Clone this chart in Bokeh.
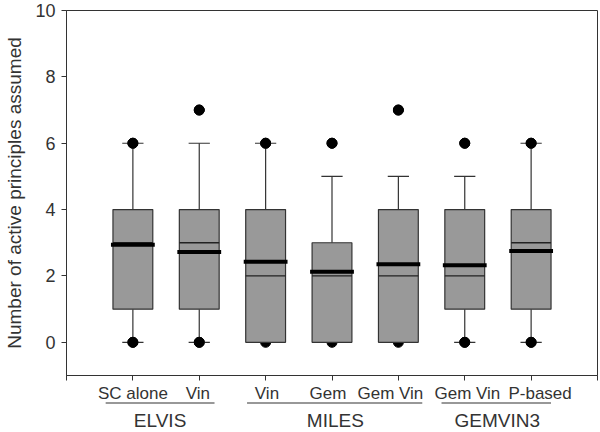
from bokeh.plotting import figure
from bokeh.models import Range1d, FixedTicker
from bokeh.layouts import column
from bokeh.core.properties import value
from bokeh.embed import file_html
from bokeh.resources import INLINE

# ---- data ----
positions = [1, 2, 3, 4, 5, 6, 7]
tick_labels = ["SC alone", "Vin", "Vin", "Gem", "Gem Vin", "Gem Vin", "P-based"]
q1 = [1, 1, 0, 0, 0, 1, 1]
q3 = [4, 4, 4, 3, 4, 4, 4]
median = [3, 3, 2, 2, 2, 2, 3]
mean = [2.94, 2.72, 2.43, 2.13, 2.35, 2.32, 2.75]
whisk_lo = [0, 0, 0, 0, 0, 0, 0]
whisk_hi = [6, 6, 6, 5, 5, 5, 6]
out_x = [1, 1, 2, 2, 3, 3, 4, 4, 5, 5, 6, 6, 7, 7]
out_y = [0, 6, 0, 7, 0, 6, 0, 6, 0, 7, 0, 6, 0, 6]
groups = ["ELVIS", "MILES", "GEMVIN3"]
group_start = [0.59, 2.72, 5.65]
group_end = [2.23, 5.36, 7.30]
group_center = [1.41, 4.05, 6.49]
y_ticks = [0, 2, 4, 6, 8, 10]
x_ticks = [0, 1, 2, 3, 4, 5, 6, 7, 8]   # includes the frame corners, as in the reference

# layout only: small horizontal nudges of the category labels (as in the reference)
label_nudge = [0.0, -0.02, 0.02, -0.06, -0.12, 0.04, 0.135]

FONT = "Liberation Sans"
GRAY = "#333333"
W = 600

p = figure(width=W, height=382, output_backend="svg", toolbar_location=None,
           x_range=Range1d(0, 8), y_range=Range1d(-1, 10),
           min_border_left=66, min_border_right=3, min_border_top=10, min_border_bottom=7)
p.grid.visible = False
p.outline_line_color = GRAY
p.outline_line_width = 1

# outliers drawn first (boxes cover those lying on a box edge)
p.scatter(out_x, out_y, size=10, color="black")

# whiskers and caps
p.segment(positions, whisk_lo, positions, q1, line_color=GRAY, line_width=1.2)
p.segment(positions, q3, positions, whisk_hi, line_color=GRAY, line_width=1.2)
caps_l = [x - 0.16 for x in positions]
caps_r = [x + 0.16 for x in positions]
p.segment(caps_l, whisk_lo, caps_r, whisk_lo, line_color=GRAY, line_width=1.2)
p.segment(caps_l, whisk_hi, caps_r, whisk_hi, line_color=GRAY, line_width=1.2)

# boxes, median (thin) and mean (thick)
box_l = [x - 0.3 for x in positions]
box_r = [x + 0.3 for x in positions]
p.quad(left=box_l, right=box_r, bottom=q1, top=q3, fill_color="#999999",
       line_color=GRAY, line_width=1.2)
p.segment(box_l, median, box_r, median, line_color="#222222", line_width=1.3)
mean_l = [x - 0.33 for x in positions]
mean_r = [x + 0.33 for x in positions]
p.segment(mean_l, mean, mean_r, mean, line_color="black", line_width=4)

# outliers sitting on whisker caps stay visible on top
vis = [(x, y) for x, y in zip(out_x, out_y) if not (y == q1[x - 1])]
p.scatter([v[0] for v in vis], [v[1] for v in vis], size=10, color="black")

# axes
p.yaxis.ticker = FixedTicker(ticks=y_ticks)
p.yaxis.minor_tick_line_color = None
p.yaxis.major_tick_in = 0
p.yaxis.major_tick_out = 5
p.yaxis.major_label_text_font = FONT
p.yaxis.major_label_text_font_size = "18px"
p.yaxis.major_label_text_color = GRAY
p.yaxis.axis_line_color = GRAY
p.yaxis.major_tick_line_color = GRAY
p.yaxis.major_label_standoff = 6
p.yaxis.axis_label = "Number of active principles assumed"
p.yaxis.axis_label_text_font = FONT
p.yaxis.axis_label_text_font_size = "19px"
p.yaxis.axis_label_text_font_style = "normal"
p.yaxis.axis_label_text_color = GRAY
p.yaxis.axis_label_standoff = 7

# x axis: ticks only; the category names are set in the strip below
p.xaxis.ticker = FixedTicker(ticks=x_ticks)
p.xaxis.major_label_overrides = {x: "" for x in x_ticks}
p.xaxis.minor_tick_line_color = None
p.xaxis.major_tick_in = 0
p.xaxis.major_tick_out = 5
p.xaxis.major_label_standoff = 0
p.xaxis.axis_line_color = GRAY
p.xaxis.major_tick_line_color = GRAY

# strip below: category names, study-group underlines and names
# (strip y is in pixels from the strip's bottom)
g = figure(width=W, height=50, output_backend="svg", toolbar_location=None,
           x_range=p.x_range, y_range=Range1d(0, 50),
           x_axis_type=None, y_axis_type=None,
           min_border_left=66, min_border_right=3, min_border_top=0, min_border_bottom=0)
g.grid.visible = False
g.outline_line_color = None
label_x = [x + d for x, d in zip(positions, label_nudge)]
g.text(label_x, [39] * len(positions), text=tick_labels, text_align="center",
       text_baseline="alphabetic", text_font=value(FONT), text_font_size="17px",
       text_color=GRAY)
g.segment(group_start, [29.5] * 3, group_end, [29.5] * 3, line_color=GRAY, line_width=1.2)
g.text(group_center, [12] * 3, text=groups, text_align="center", text_baseline="alphabetic",
       text_font=value(FONT), text_font_size="19px", text_color=GRAY)

open("out.html", "w").write(file_html(column(p, g, spacing=0), INLINE))
